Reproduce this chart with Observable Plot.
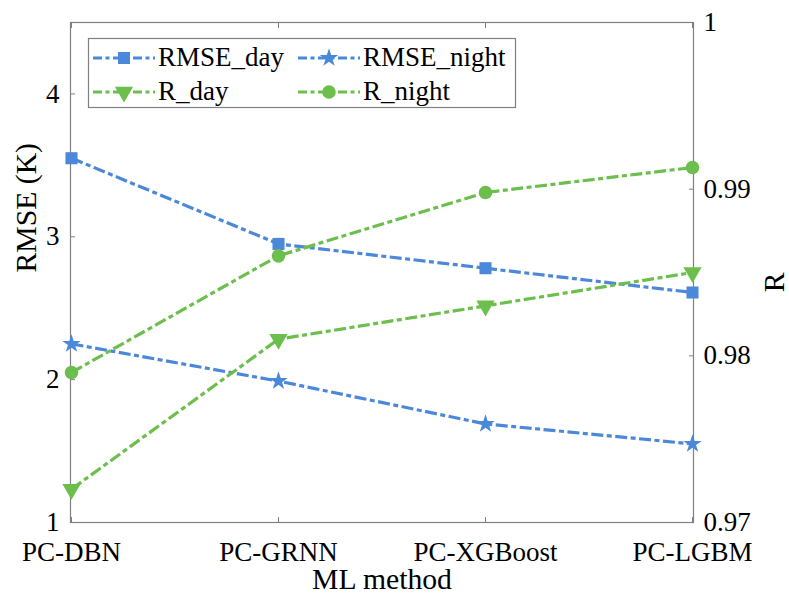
<!DOCTYPE html>
<html>
<head>
<meta charset="utf-8">
<script src="https://cdn.jsdelivr.net/npm/d3@7"></script>
<script src="https://cdn.jsdelivr.net/npm/@observablehq/plot@0.6"></script>
<style>
  body { margin: 0; background: white; }
  #wrap { position: relative; width: 789px; height: 595px; overflow: hidden; }
  #legend { position: absolute; left: 0; top: 0; }
  svg text { font-family: "Liberation Serif", "Times New Roman", Times, serif; }
</style>
</head>
<body>
<div id="wrap"></div>
<script>
const methods = ["PC-DBN", "PC-GRNN", "PC-XGBoost", "PC-LGBM"];
const seriesNames = ["RMSE_day", "RMSE_night", "R_day", "R_night"];
const rmseDay = [3.55, 2.95, 2.78, 2.61];
const rmseNight = [2.25, 1.99, 1.69, 1.55];
const rDay = [0.972, 0.981, 0.983, 0.985];
const rNight = [0.979, 0.986, 0.9898, 0.9913];
const rmseTicks = [1, 2, 3, 4];
const rmseTickLabels = ["1", "2", "3", "4"];
const rTicks = [0.97, 0.98, 0.99, 1];
const rTickLabels = ["0.97", "0.98", "0.99", "1"];

const BLUE = "#4c88da";
const GREEN = "#6cbf4c";
const AXIS = "#808080";
const FONT = "'Liberation Serif', 'Times New Roman', Times, serif";

// right axis (R) mapped onto the left scale domain
const rmseDomain = [1, 4.5];
const rDomain = [0.97, 1];
const rToY = r => rmseDomain[0] + (r - rDomain[0]) / (rDomain[1] - rDomain[0]) * (rmseDomain[1] - rmseDomain[0]);

const triangleDown = {
  draw(ctx, size) {
    const s = Math.sqrt(size / (Math.sqrt(3) / 4));
    const h = s * Math.sqrt(3) / 2;
    ctx.moveTo(0, 2 * h / 3);
    ctx.lineTo(s / 2, -h / 3);
    ctx.lineTo(-s / 2, -h / 3);
    ctx.closePath();
  }
};

const series = [
  {name: seriesNames[0], values: rmseDay, map: v => v, color: BLUE, symbol: "square", r: 6.8},
  {name: seriesNames[1], values: rmseNight, map: v => v, color: BLUE, symbol: "star", r: 5.8},
  {name: seriesNames[2], values: rDay, map: rToY, color: GREEN, symbol: triangleDown, r: 6.8},
  {name: seriesNames[3], values: rNight, map: rToY, color: GREEN, symbol: "circle", r: 6.8}
];

const DASH = "12,3.5,5,3.5";
const marks = [
  Plot.frame({stroke: AXIS, strokeWidth: 1.2}),
  Plot.axisX({anchor: "bottom", tickSize: -5, tickPadding: 24, label: null, stroke: AXIS, fill: "black", fontSize: 27, fontFamily: FONT}),
  Plot.axisX({anchor: "top", tickSize: -5, tickFormat: () => "", label: null, stroke: AXIS}),
  Plot.axisY({anchor: "left", ticks: rmseTicks, tickFormat: d => rmseTickLabels[rmseTicks.indexOf(d)], tickSize: -5, tickPadding: 16, label: null, stroke: AXIS, fill: "black", fontSize: 27, fontFamily: FONT}),
  Plot.axisY({anchor: "right", ticks: rTicks.map(rToY),
    tickFormat: d => rTickLabels[rTicks.findIndex(t => Math.abs(rToY(t) - d) < 1e-9)],
    tickSize: -5, tickPadding: 15, label: null, stroke: AXIS, fill: "black", fontSize: 27, fontFamily: FONT}),
  Plot.text(["RMSE (K)"], {frameAnchor: "left", dx: -35, rotate: -90, lineAnchor: "bottom", fontSize: 29.7, fill: "black", fontFamily: FONT}),
  Plot.text(["R"], {frameAnchor: "right", dx: 90, rotate: -90, lineAnchor: "bottom", fontSize: 29.7, fill: "black", fontFamily: FONT}),
  Plot.text(["ML method"], {frameAnchor: "bottom", dy: 66, lineAnchor: "bottom", fontSize: 29.7, fill: "black", fontFamily: FONT})
];
for (const s of series) {
  const rows = methods.map((m, i) => ({method: m, y: s.map(s.values[i])}));
  marks.push(Plot.line(rows, {x: "method", y: "y", stroke: s.color, strokeWidth: 3.2, strokeDasharray: DASH, strokeLinecap: "butt", strokeLinejoin: "miter"}));
}
for (const s of series) {
  const rows = methods.map((m, i) => ({method: m, y: s.map(s.values[i])}));
  marks.push(Plot.dot(rows, {x: "method", y: "y", fill: s.color, stroke: "none", symbol: s.symbol, r: s.r}));
}

const chart = Plot.plot({
  width: 789,
  height: 595,
  marginLeft: 70,
  marginRight: 96,
  marginTop: 22,
  marginBottom: 73,
  x: {type: "point", domain: methods, padding: 0},
  y: {domain: rmseDomain},
  style: {fontFamily: FONT, fontSize: "27px", color: "black", background: "white"},
  marks
});
const wrap = document.getElementById("wrap");
wrap.appendChild(chart);

// legend overlay
const leg = d3.select(wrap).append("svg").attr("id", "legend").attr("width", 789).attr("height", 595);
leg.append("rect").attr("x", 88.5).attr("y", 38.5).attr("width", 427).attr("height", 69)
  .attr("fill", "white").attr("stroke", AXIS).attr("stroke-width", 1.2);
const cols = [93, 298];
const rowsY = [58, 92];
series.forEach((s, i) => {
  const x0 = cols[i % 2], y0 = rowsY[Math.floor(i / 2)];
  const g = leg.append("g");
  g.append("line").attr("x1", x0).attr("x2", x0 + 62).attr("y1", y0).attr("y2", y0)
    .attr("stroke", s.color).attr("stroke-width", 3.2).attr("stroke-linecap", "butt")
    .attr("stroke-dasharray", "9,3.5,4,3.5");
  const sym = typeof s.symbol === "string"
    ? {square: d3.symbolSquare, star: d3.symbolStar, circle: d3.symbolCircle}[s.symbol]
    : s.symbol;
  g.append("path").attr("transform", `translate(${x0 + 31},${y0})`)
    .attr("d", d3.symbol(sym, Math.PI * s.r * s.r)()).attr("fill", s.color);
  g.append("text").attr("x", x0 + 65).attr("y", y0 + 7.5)
    .style("font-family", FONT).attr("font-size", 27).attr("fill", "black").text(s.name);
});
</script>
</body>
</html>
